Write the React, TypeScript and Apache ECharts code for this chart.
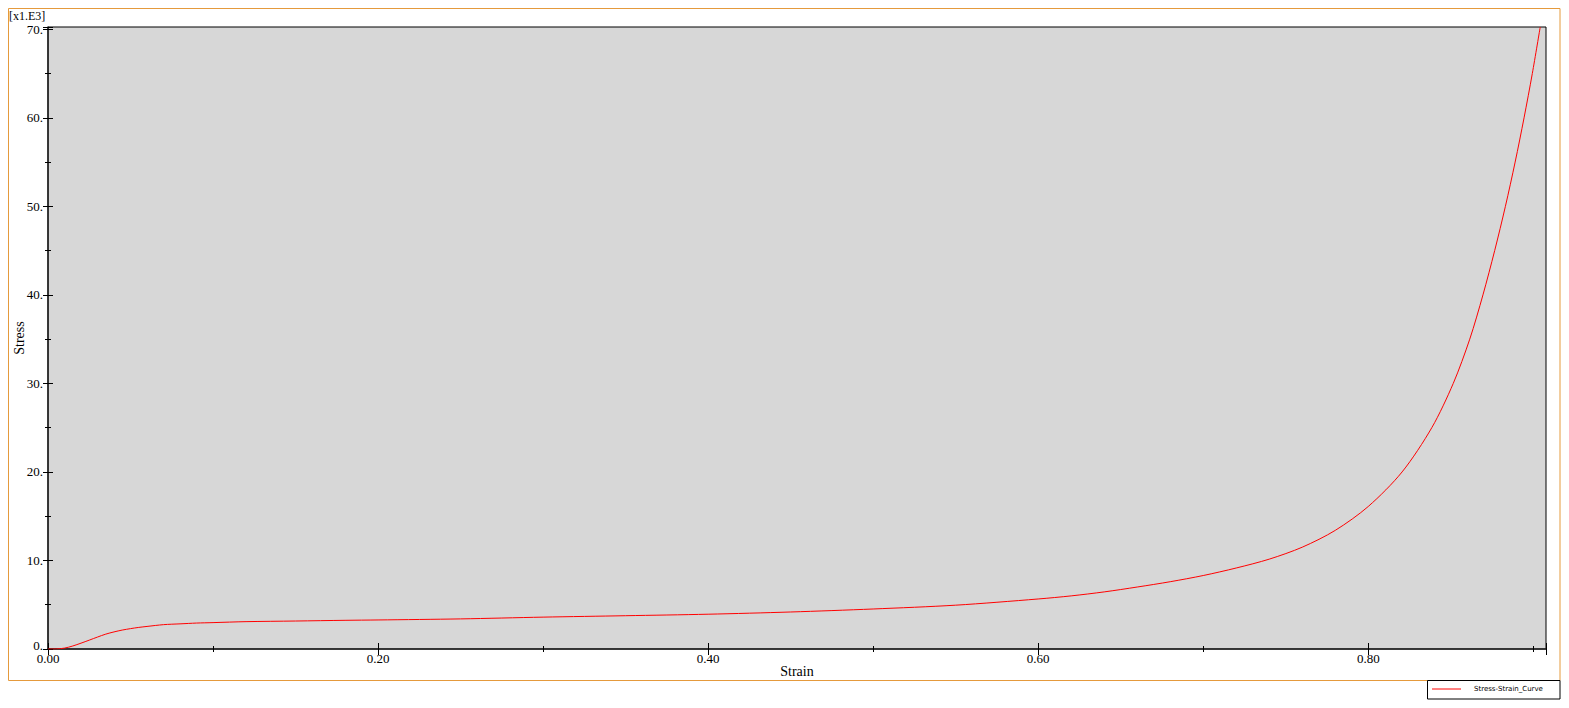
import React, { useEffect, useRef } from "react";
import * as echarts from "echarts";

const strain = [0, 0.005, 0.01, 0.015, 0.02, 0.025, 0.03, 0.035, 0.04, 0.045, 0.05, 0.055, 0.06, 0.07, 0.08, 0.09, 0.1, 0.12, 0.15, 0.18, 0.2, 0.25, 0.3, 0.35, 0.4, 0.45, 0.5, 0.55, 0.6, 0.62, 0.64, 0.66, 0.68, 0.7, 0.72, 0.74, 0.76, 0.78, 0.8, 0.8205, 0.8385, 0.8515, 0.8615, 0.8695, 0.8766, 0.8831, 0.889, 0.8944, 0.8994, 0.9042];
const stress = [0, 0.01, 0.1, 0.34, 0.66, 1.0, 1.35, 1.68, 1.93, 2.14, 2.3, 2.44, 2.55, 2.75, 2.84, 2.93, 2.98, 3.09, 3.16, 3.24, 3.28, 3.4, 3.6, 3.76, 3.93, 4.18, 4.52, 4.95, 5.65, 6.0, 6.45, 7.0, 7.6, 8.3, 9.15, 10.15, 11.5, 13.4, 16.1, 20.0, 25, 30, 35, 40, 45, 50, 55, 60, 65, 70.26];

const xMajor = 0.2;
const xMinor = 0.1;
const yMajor = 10;
const yMinor = 5;
const xMax = 0.9077;
const yMax = 70.26;
const seriesName = "Stress-Strain_Curve";

const SERIF = "'Liberation Serif', 'DejaVu Serif', serif";

export default function App() {
  const ref = useRef<HTMLDivElement>(null);
  useEffect(() => {
    if (!ref.current) return;
    const chart = echarts.init(ref.current, null, { renderer: "svg" });
    const data = strain.map((s, i) => [s, stress[i]]);
    const isMult = (v: number, step: number) => Math.abs(v / step - Math.round(v / step)) < 1e-6;
    const baseX = {
      type: "value",
      min: 0,
      max: xMax,
      splitLine: { show: false },
      axisLine: { show: false },
    };
    const baseY = {
      type: "value",
      min: 0,
      max: yMax,
      splitLine: { show: false },
      axisLine: { show: false },
    };
    chart.setOption({
      animation: false,
      backgroundColor: "#ffffff",
      grid: {
        left: 48,
        top: 27,
        right: 23,
        bottom: 59,
        show: true,
        backgroundColor: "#d7d7d7",
        borderColor: "#000000",
        borderWidth: 1,
        containLabel: false,
        outerBoundsMode: "none",
      },
      legend: {
        left: 1432,
        top: 685.5,
        padding: 0,
        z: 200,
        itemWidth: 29,
        itemHeight: 1,
        data: [{ name: seriesName, icon: "rect" }],
        textStyle: {
          fontFamily: "'DejaVu Sans', sans-serif",
          fontSize: 7,
          color: "#000",
          padding: [0, 0, 0, 8],
        },
      },
      xAxis: [
        {
          ...baseX,
          position: "bottom",
          interval: xMajor,
          axisLine: { show: true, lineStyle: { color: "#222", width: 1.5 } },
          axisTick: { show: true, inside: true, length: 6, lineStyle: { color: "#000" } },
          axisLabel: {
            show: true,
            margin: 3,
            fontFamily: SERIF,
            fontSize: 13,
            color: "#000",
            formatter: (v: number) => (isMult(v, xMajor) ? v.toFixed(2) : ""),
          },
          name: "Strain",
          nameLocation: "middle",
          nameGap: 15,
          nameMoveOverlap: false,
          nameTextStyle: { fontFamily: SERIF, fontSize: 14, color: "#000" },
        },
        {
          ...baseX,
          position: "bottom",
          interval: xMinor,
          axisTick: { show: true, inside: true, length: 3, lineStyle: { color: "#000" } },
          axisLabel: { show: false },
        },
        {
          ...baseX,
          position: "top",
          interval: xMajor,
          axisTick: { show: true, inside: true, length: 6, lineStyle: { color: "#000" } },
          axisLabel: { show: false },
        },
        {
          ...baseX,
          position: "top",
          interval: xMinor,
          axisTick: { show: true, inside: true, length: 3, lineStyle: { color: "#000" } },
          axisLabel: { show: false },
        },
      ],
      yAxis: [
        {
          ...baseY,
          position: "left",
          interval: yMajor,
          axisLine: { show: true, lineStyle: { color: "#222", width: 1.5 } },
          axisTick: { show: true, inside: true, length: 5, lineStyle: { color: "#000" } },
          axisLabel: {
            show: true,
            margin: 5,
            fontFamily: SERIF,
            fontSize: 13,
            color: "#000",
            formatter: (v: number) =>
              isMult(v, yMajor) ? (v === 0 ? "{z|0.}" : `${Math.round(v)}.`) : "",
            rich: {
              z: { fontFamily: SERIF, fontSize: 13, color: "#000", padding: [0, 0, 8, 0] },
            },
          },
          name: "Stress",
          nameLocation: "middle",
          nameRotate: 90,
          nameGap: 22,
          nameMoveOverlap: false,
          nameTextStyle: { fontFamily: SERIF, fontSize: 14, color: "#000" },
        },
        {
          ...baseY,
          position: "left",
          interval: yMinor,
          axisTick: { show: true, inside: true, length: 3, lineStyle: { color: "#000" } },
          axisLabel: { show: false },
        },
        {
          ...baseY,
          position: "right",
          interval: yMajor,
          axisTick: { show: true, inside: true, length: 5, lineStyle: { color: "#000" } },
          axisLabel: { show: false },
        },
        {
          ...baseY,
          position: "right",
          interval: yMinor,
          axisTick: { show: true, inside: true, length: 3, lineStyle: { color: "#000" } },
          axisLabel: { show: false },
        },
      ],
      graphic: [
        {
          type: "rect",
          z: 100,
          silent: true,
          shape: { x: 8.5, y: 8.5, width: 1551.5, height: 672 },
          style: { fill: "none", stroke: "#E59A3C", lineWidth: 1 },
        },
        {
          type: "rect",
          z: 101,
          silent: true,
          shape: { x: 1427.5, y: 680.5, width: 132.5, height: 18.5 },
          style: { fill: "#ffffff", stroke: "#000000", lineWidth: 1 },
        },
        {
          type: "text",
          z: 100,
          left: 9,
          top: 10,
          style: {
            text: "[x1.E3]",
            font: `12px ${SERIF}`,
            fill: "#000",
          },
        },
      ],
      series: [
        {
          name: seriesName,
          type: "line",
          xAxisIndex: 0,
          yAxisIndex: 0,
          data,
          smooth: 0.3,
          symbol: "none",
          clip: true,
          lineStyle: { color: "#ff0000", width: 1 },
          itemStyle: { color: "#ff0000" },
          z: 5,
        },
      ],
    });
    return () => chart.dispose();
  }, []);
  return (
    <div
      ref={ref}
      style={{ position: "fixed", left: 0, top: 0, width: 1569, height: 708 }}
    />
  );
}
